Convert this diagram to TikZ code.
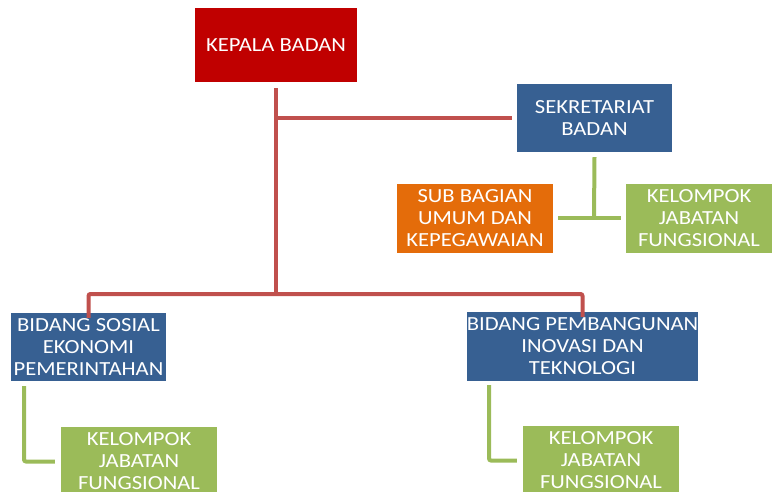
\documentclass[tikz,border=0pt]{standalone}
\usepackage{fontspec}
\setmainfont{Carlito}[FakeStretch=1.13]
\definecolor{kred}{HTML}{C00000}
\definecolor{kblue}{HTML}{376092}
\definecolor{korange}{HTML}{E46C0A}
\definecolor{kgreen}{HTML}{9BBB59}
\definecolor{lred}{HTML}{C0504D}
\begin{document}
\begin{tikzpicture}[x=1pt,y=-1pt,
  box/.style={inner sep=0pt, align=center, text=white,
    font=\fontsize{20}{22}\selectfont, minimum height=69pt},
  redline/.style={draw=lred, line width=4pt, rounded corners=2pt},
  greenline/.style={draw=kgreen, line width=4pt, rounded corners=2pt}]
\useasboundingbox (0,0) rectangle (772,492);
\clip (0,0) rectangle (772,492);
% boxes
\node[box, fill=kred, minimum width=162pt, minimum height=74pt] (kepala) at (276,45) {KEPALA BADAN};
\node[box, fill=kblue, minimum width=155pt, minimum height=68pt] (sek) at (594.5,118) {SEKRETARIAT\\BADAN};
\node[box, fill=korange, minimum width=156pt] (sub) at (475,218.5) {SUB BAGIAN\\UMUM DAN\\KEPEGAWAIAN};
\node[box, fill=kgreen, minimum width=146pt] (kjfa) at (699,218.5) {KELOMPOK\\JABATAN\\FUNGSIONAL};
\node[box, fill=kblue, minimum width=155pt, minimum height=68pt] (bsos) at (88.5,347) {BIDANG SOSIAL\\EKONOMI\\PEMERINTAHAN};
\node[box, fill=kblue, minimum width=231pt] (bpem) at (582.5,346.5) {BIDANG PEMBANGUNAN\\INOVASI DAN\\TEKNOLOGI};
\node[box, fill=kgreen, minimum width=156pt] (kjfb) at (139,461.5) {KELOMPOK\\JABATAN\\FUNGSIONAL};
\node[box, fill=kgreen, minimum width=156pt] (kjfc) at (601,460.5) {KELOMPOK\\JABATAN\\FUNGSIONAL};
% coordinates
\coordinate (bus) at (276,294);
\coordinate (sekj) at (276,118);
\coordinate (gj) at (594,218);
% red connectors
\draw[redline] ([yshift=-6pt]kepala.south) -- (bus);
\draw[redline] (sekj) -- ([xshift=-5pt]sek.west);
\draw[redline] ([yshift=-5pt]bsos.north) -- (bsos.north |- bus) -- (bpem.north |- bus) -- ([yshift=-5pt]bpem.north);
% green connectors
\draw[greenline] ([yshift=-5pt]sek.south) -- (gj);
\draw[greenline] ([xshift=5pt]sub.east) -- ([xshift=-5pt]kjfa.west);
\draw[greenline] ([yshift=-5pt]bsos.south -| 24,0) -- (24,0 |- kjfb.west) -- ([xshift=-6pt]kjfb.west);
\draw[greenline] ([yshift=-4pt]bpem.south -| 489,0) -- (489,0 |- kjfc.west) -- ([xshift=-6pt]kjfc.west);
\end{tikzpicture}
\end{document}
